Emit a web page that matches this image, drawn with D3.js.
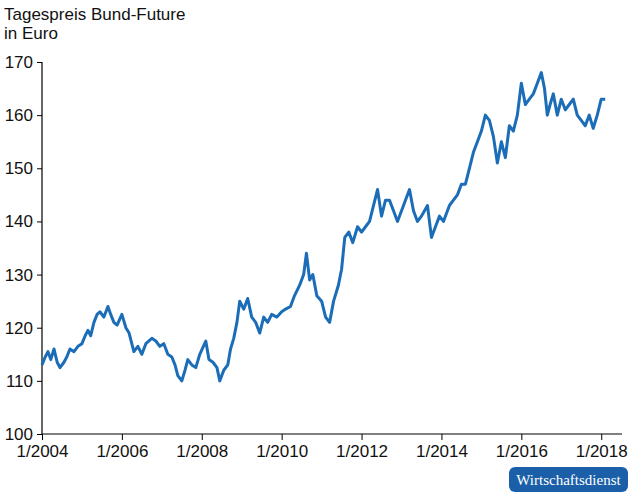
<!DOCTYPE html>
<html>
<head>
<meta charset="utf-8">
<script src="https://cdn.jsdelivr.net/npm/d3@7"></script>
<style>
  body { margin: 0; background: #fff; }
  text { font-family: "Liberation Sans", Arial, sans-serif; }
</style>
</head>
<body>
<svg id="chart" width="630" height="498"></svg>
<script>
// values (decimal year, price)
var years = [2004.0,2004.08,2004.15,2004.22,2004.3,2004.38,2004.45,2004.55,2004.62,2004.7,2004.8,2004.9,2005.0,2005.08,2005.15,2005.22,2005.3,2005.38,2005.45,2005.55,2005.65,2005.72,2005.8,2005.88,2006.0,2006.1,2006.18,2006.3,2006.4,2006.5,2006.6,2006.75,2006.85,2006.95,2007.05,2007.15,2007.25,2007.33,2007.4,2007.5,2007.58,2007.65,2007.75,2007.85,2007.95,2008.1,2008.18,2008.28,2008.38,2008.45,2008.55,2008.65,2008.72,2008.8,2008.88,2008.95,2009.05,2009.15,2009.25,2009.35,2009.45,2009.55,2009.65,2009.75,2009.88,2010.0,2010.1,2010.22,2010.32,2010.45,2010.55,2010.62,2010.7,2010.78,2010.88,2011.0,2011.1,2011.2,2011.3,2011.42,2011.5,2011.58,2011.68,2011.78,2011.9,2012.0,2012.1,2012.2,2012.3,2012.4,2012.5,2012.6,2012.7,2012.8,2012.9,2013.05,2013.2,2013.3,2013.4,2013.5,2013.65,2013.75,2013.85,2013.95,2014.05,2014.2,2014.3,2014.4,2014.5,2014.6,2014.7,2014.8,2014.9,2015.0,2015.1,2015.2,2015.3,2015.4,2015.5,2015.6,2015.7,2015.8,2015.9,2016.0,2016.1,2016.2,2016.3,2016.4,2016.5,2016.58,2016.65,2016.72,2016.8,2016.9,2017.0,2017.1,2017.2,2017.3,2017.4,2017.5,2017.6,2017.7,2017.8,2017.9,2018.0,2018.1,2018.2,2018.28,2018.36,2018.45,2018.52];
var prices = [113,114.5,115.5,114,116,113.5,112.5,113.5,114.5,116,115.5,116.5,117,118.5,119.5,118.5,121,122.5,123,122,124,122.5,121,120.5,122.5,120,119,115.5,116.5,115,117,118,117.5,116.5,117,115,114.5,113,111,110,112,114,113,112.5,115,117.5,114,113.5,112.5,110,112,113,116,118,121,125,123.5,125.5,122,121,119,122,121,122.5,122,123,123.5,124,126,128,130,134,129,130,126,125,122,121,125,128,131,137,138,136,139,138,139,140,143,146,141,144,144,142,140,143,146,142,140,141,143,137,139,141,140,143,144,145,147,147,150,153,155,157,160,159,156,151,155,152,158,157,160,166,162,163,164,166,168,165,160,162,164,160,163,161,162,163,160,159,158,160,157.5,160,163,163];

var yTicks = [100,110,120,130,140,150,160,170];
var xTickYears = [2004,2006,2008,2010,2012,2014,2016,2018];

var svg = d3.select("#chart");
var m = {left: 42, top: 62, right: 622, bottom: 434};

var x = d3.scaleLinear().domain([2004, 2018.52]).range([m.left, m.right]);
var y = d3.scaleLinear().domain([100, 170]).range([m.bottom, m.top]);

svg.append("text").attr("x", 4).attr("y", 20).attr("font-size", 17).attr("fill", "#111").text("Tagespreis Bund-Future");
svg.append("text").attr("x", 4).attr("y", 39).attr("font-size", 17).attr("fill", "#111").text("in Euro");

var yAxis = svg.append("g").attr("transform", "translate(" + m.left + ",0)")
  .call(d3.axisLeft(y).tickValues(yTicks).tickSize(5).tickPadding(4));
var xAxis = svg.append("g").attr("transform", "translate(0," + m.bottom + ")")
  .call(d3.axisBottom(x).tickValues(xTickYears).tickSize(6).tickPadding(5).tickFormat(function(d){ return "1/" + d; }));
[yAxis, xAxis].forEach(function(a){
  a.select(".domain").attr("stroke", "#000").attr("stroke-width", 1.2);
  a.selectAll("line").attr("stroke", "#000");
  a.selectAll("text").attr("font-size", 17).attr("fill", "#111").attr("font-family", "Liberation Sans, Arial, sans-serif");
});
yAxis.select(".domain").attr("d", "M0," + m.top + "V" + m.bottom);
xAxis.select(".domain").attr("d", "M" + m.left + ",0H" + m.right);

var data = years.map(function(t, i){ return [t, prices[i]]; });
svg.append("path").datum(data)
  .attr("fill", "none").attr("stroke", "#1b6db7").attr("stroke-width", 3)
  .attr("stroke-linejoin", "round")
  .attr("d", d3.line().x(function(d){ return x(d[0]); }).y(function(d){ return y(d[1]); }));

svg.append("rect").attr("x", 509).attr("y", 467).attr("width", 119).attr("height", 25).attr("rx", 6).attr("fill", "#1a5fa8");
svg.append("text").attr("x", 568.5).attr("y", 485).attr("text-anchor", "middle").attr("fill", "#fff")
  .attr("font-size", 15).style("font-family", "Liberation Serif, serif").text("Wirtschaftsdienst");
</script>
</body>
</html>
